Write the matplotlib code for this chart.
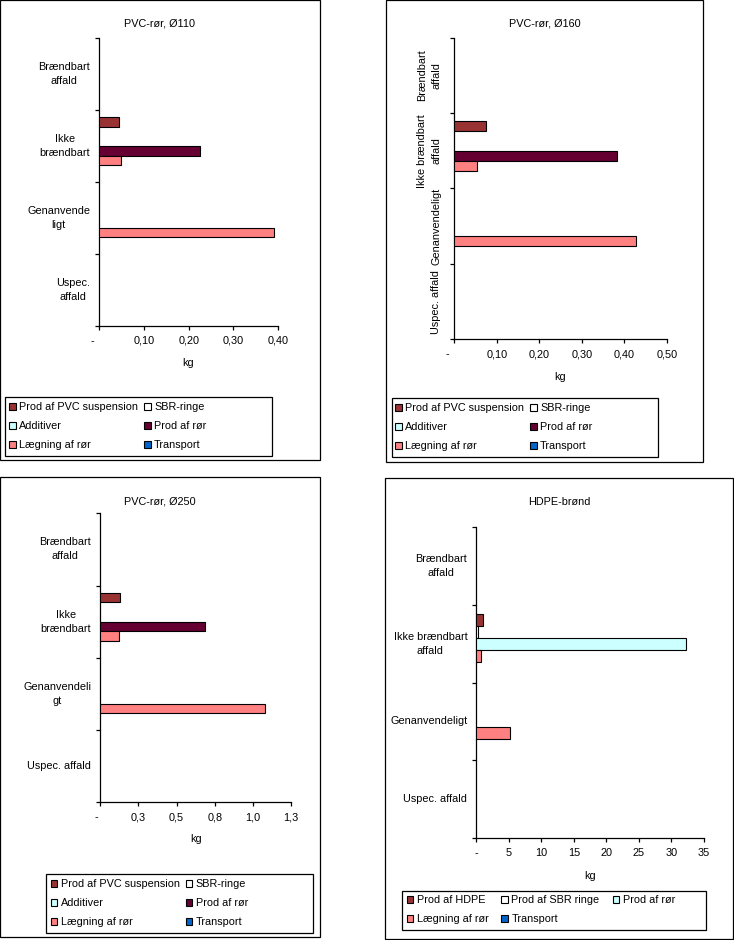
import matplotlib
matplotlib.use("Agg")
import matplotlib.pyplot as plt
import numpy as np
from matplotlib.patches import Rectangle, Patch
from matplotlib.transforms import ScaledTranslation

plt.rcParams['font.family'] = ['Liberation Sans', 'DejaVu Sans']
FS = 7.85
W, H = 734, 940

# ---------------- data ----------------
titles = ["PVC-rør, Ø110", "PVC-rør, Ø160", "PVC-rør, Ø250", "HDPE-brønd"]

cats_110 = ["Brændbart\naffald", "Ikke\nbrændbart", "Genanvende\nligt", "Uspec.\naffald"]
cats_160 = ["Brændbart\naffald", "Ikke brændbart\naffald", "Genanvendeligt", "Uspec. affald"]
cats_250 = ["Brændbart\naffald", "Ikke\nbrændbart", "Genanvendeli\ngt", "Uspec. affald"]
cats_hdpe = ["Brændbart\naffald", "Ikke brændbart\naffald", "Genanvendeligt", "Uspec. affald"]

series_pvc = ["Prod af PVC suspension", "SBR-ringe", "Additiver",
              "Prod af rør", "Lægning af rør", "Transport"]
series_hdpe = ["Prod af HDPE", "Prod af SBR ringe", "Prod af rør",
               "Lægning af rør", "Transport"]

# values per series, categories listed top -> bottom
pvc110_suspension = [0, 0.043, 0, 0]
pvc110_sbr        = [0, 0, 0, 0]
pvc110_additiver  = [0, 0, 0, 0]
pvc110_prod_ror   = [0, 0.225, 0, 0]
pvc110_laegning   = [0, 0.048, 0.390, 0]
pvc110_transport  = [0, 0, 0, 0]

pvc160_suspension = [0, 0.074, 0, 0]
pvc160_sbr        = [0, 0, 0, 0]
pvc160_additiver  = [0, 0, 0, 0]
pvc160_prod_ror   = [0, 0.384, 0, 0]
pvc160_laegning   = [0, 0.053, 0.427, 0]
pvc160_transport  = [0, 0, 0, 0]

pvc250_suspension = [0, 0.131, 0, 0]
pvc250_sbr        = [0, 0, 0, 0]
pvc250_additiver  = [0, 0, 0, 0]
pvc250_prod_ror   = [0, 0.687, 0, 0]
pvc250_laegning   = [0, 0.125, 1.08, 0]
pvc250_transport  = [0, 0, 0, 0]

hdpe_prod_hdpe  = [0, 0.98, 0, 0]
hdpe_sbr        = [0, 0.30, 0, 0]
hdpe_prod_ror   = [0, 32.2, 0, 0]
hdpe_laegning   = [0, 0.68, 5.14, 0]
hdpe_transport  = [0, 0, 0, 0]

xticks_110 = [0, 0.1, 0.2, 0.3, 0.4]
xlabels_110 = ["-", "0,10", "0,20", "0,30", "0,40"]
xticks_160 = [0, 0.1, 0.2, 0.3, 0.4, 0.5]
xlabels_160 = ["-", "0,10", "0,20", "0,30", "0,40", "0,50"]
xticks_250 = [0, 0.25, 0.5, 0.75, 1.0, 1.25]
xlabels_250 = ["-", "0,3", "0,5", "0,8", "1,0", "1,3"]
xticks_hdpe = [0, 5, 10, 15, 20, 25, 30, 35]
xlabels_hdpe = ["-", "5", "10", "15", "20", "25", "30", "35"]

colors_pvc = ["#993333", "#FFFFFF", "#CCFFFF", "#660033", "#FF8080", "#0066CC"]
colors_hdpe = ["#993333", "#FFFFFF", "#CCFFFF", "#FF8080", "#0066CC"]

# ---------------- layout ----------------
fig = plt.figure(figsize=(W / 100, H / 100), dpi=100)


def box(x0, y0, x1, y1):
    fig.add_artist(Rectangle((x0 / W, 1 - y1 / H), (x1 - x0) / W, (y1 - y0) / H,
                             transform=fig.transFigure, fill=False,
                             edgecolor='black', linewidth=0.9))


def panel(ax_px, border, title_xy, kg_xy, legend_box, legend_anchor, ncol, colspace,
          title, cats, names, values, colors, xticks, xlabels, rotate=False,
          ylab_pad=6.5, dash_shift=0):
    l, r, t, b = ax_px
    ax = fig.add_axes([l / W, 1 - b / H, (r - l) / W, (b - t) / H])
    n = len(names)
    h = 1.0 / (n + 1.5)
    idx = np.arange(len(cats))
    for j, (vals, col) in enumerate(zip(values, colors)):
        vals = np.asarray(vals, dtype=float)
        ys = idx + (j - (n - 1) / 2) * h
        m = vals > 0
        if m.any():
            ax.barh(ys[m], vals[m], height=h, color=col, edgecolor='black',
                    linewidth=0.8, zorder=3)
    ax.set_ylim(len(cats) - 0.5, -0.5)
    ax.set_xlim(xticks[0], xticks[-1])
    for s in ['top', 'right']:
        ax.spines[s].set_visible(False)
    for s in ['left', 'bottom']:
        ax.spines[s].set_linewidth(0.9)
    ax.set_xticks(xticks)
    ax.set_xticklabels(xlabels, fontsize=FS)
    ax.set_yticks(np.arange(len(cats) + 1) - 0.5)
    ax.set_yticklabels([])
    ax.set_yticks(idx, minor=True)
    ax.set_yticklabels(cats, minor=True, fontsize=FS)
    ax.tick_params(axis='x', direction='out', length=3, width=0.9, pad=4)
    ax.tick_params(axis='y', which='major', direction='out', length=3, width=0.9)
    ax.tick_params(axis='y', which='minor', length=0, pad=ylab_pad)
    for lab in ax.get_yticklabels(minor=True):
        lab.set_multialignment('center')
        lab.set_linespacing(1.5)
        lab.set_va('center')
        if rotate:
            lab.set_rotation(90)
            lab.set_ha('right')
    if dash_shift:
        lab0 = ax.get_xticklabels()[0]
        lab0.set_transform(lab0.get_transform() +
                           ScaledTranslation(-dash_shift / 100, 0, fig.dpi_scale_trans))
    ax.set_facecolor('none')

    box(*border)
    fig.text(title_xy[0] / W, 1 - title_xy[1] / H, title, ha='center', va='center', fontsize=FS)
    fig.text(kg_xy[0] / W, 1 - kg_xy[1] / H, "kg", ha='center', va='center', fontsize=FS)

    box(*legend_box)
    handles = [Patch(facecolor=c, edgecolor='black', linewidth=0.8) for c in colors]
    nrows = int(np.ceil(n / ncol))
    order = [r_ * ncol + c_ for c_ in range(ncol) for r_ in range(nrows) if r_ * ncol + c_ < n]
    fig.legend([handles[i] for i in order], [names[i] for i in order],
               loc='upper left', bbox_to_anchor=(legend_anchor[0] / W, 1 - legend_anchor[1] / H),
               ncol=ncol, frameon=False, fontsize=FS, handlelength=0.62, handleheight=0.62,
               handletextpad=0.3, columnspacing=colspace, labelspacing=0.82,
               borderpad=0, borderaxespad=0)
    return ax


panel((99.3, 278, 38, 326), (0, 0, 320, 460), (160, 24), (188.5, 363),
      (5.3, 397.3, 272.3, 456), (9, 402), 2, 0.55,
      titles[0], cats_110, series_pvc,
      [pvc110_suspension, pvc110_sbr, pvc110_additiver, pvc110_prod_ror,
       pvc110_laegning, pvc110_transport],
      colors_pvc, xticks_110, xlabels_110, dash_shift=7)

panel((454.3, 666.7, 37.7, 339.3), (386, 0, 703, 462), (545, 24), (560.5, 376.7),
      (391.7, 398.3, 658.3, 457.3), (395, 403), 2, 0.55,
      titles[1], cats_160, series_pvc,
      [pvc160_suspension, pvc160_sbr, pvc160_additiver, pvc160_prod_ror,
       pvc160_laegning, pvc160_transport],
      colors_pvc, xticks_160, xlabels_160, rotate=True, ylab_pad=9.5, dash_shift=6.5)

panel((100.3, 291, 513.3, 802.3), (0, 477, 320, 937), (160, 501), (195.7, 839.3),
      (46.3, 874.3, 313.3, 933.3), (50.5, 879), 2, 0.55,
      titles[2], cats_250, series_pvc,
      [pvc250_suspension, pvc250_sbr, pvc250_additiver, pvc250_prod_ror,
       pvc250_laegning, pvc250_transport],
      colors_pvc, xticks_250, xlabels_250, dash_shift=4)

panel((476.3, 704, 526.7, 838.3), (385, 478, 733, 939), (559.3, 502.3), (590, 875.7),
      (402.3, 890.7, 706, 930), (406.5, 895), 3, 1.2,
      titles[3], cats_hdpe, series_hdpe,
      [hdpe_prod_hdpe, hdpe_sbr, hdpe_prod_ror, hdpe_laegning, hdpe_transport],
      colors_hdpe, xticks_hdpe, xlabels_hdpe)

fig.savefig("out.png", dpi=100, facecolor='white')
